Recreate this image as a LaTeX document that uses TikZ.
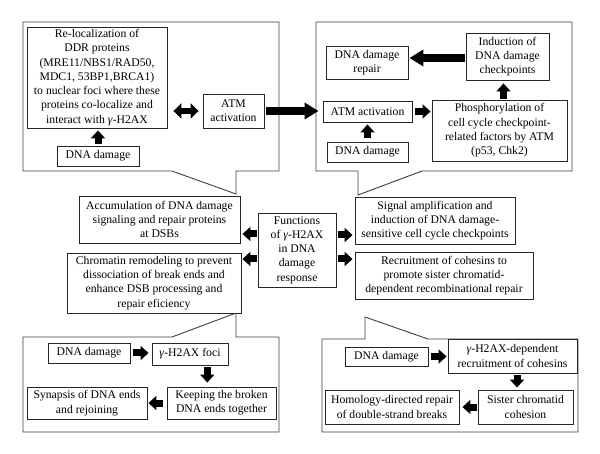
\documentclass[tikz,border=0pt]{standalone}
\usepackage{fontspec}
\setmainfont{Liberation Serif}
\usetikzlibrary{arrows.meta,calc}
\newcommand{\gH}{\textit{γ}-H2AX}
\begin{document}
\begin{tikzpicture}[x=1pt,y=-1pt,
  box/.style={draw=black!85,line width=0.9pt,fill=white,align=center,inner sep=0pt,
    font=\fontsize{11.7}{14.3}\selectfont},
  panel/.style={draw=black!75,line width=0.9pt},
  blk/.style={line width=7pt,-{Triangle[length=8pt,width=14pt]}},
  big/.style={line width=8pt,-{Triangle[length=14pt,width=16pt]}},
  dbl/.style={line width=6.5pt,{Triangle[length=8pt,width=15pt]}-{Triangle[length=8pt,width=15pt]}}]
\useasboundingbox (0,0) rectangle (600,454);
\fill[white] (0,0) rectangle (600,454);
% panels
\draw[panel] (23,22) -- (279,22) -- (279,171) -- (236,171) -- (236,194) -- (172,171) -- (23,171) -- cycle;
\draw[panel] (316,22) -- (572,22) -- (572,171) -- (422,171) -- (358,195) -- (358,171) -- (316,171) -- cycle;
\draw[panel] (23,337) -- (172,337) -- (236,313) -- (236,337) -- (279,337) -- (279,432) -- (23,432) -- cycle;
\draw[panel] (322,339) -- (365,339) -- (365,317) -- (428,339) -- (578,339) -- (578,432) -- (322,432) -- cycle;
% top-left
\node[box,minimum width=140,minimum height=101] (reloc) at (97,77.5) {Re-localization of\\DDR proteins\\(MRE11/NBS1/RAD50,\\MDC1, 53BP1,BRCA1)\\to nuclear foci where these\\proteins co-localize and\\interact with \gH};
\node[box,minimum width=61,minimum height=34] (atm1) at (233.5,111) {ATM\\activation};
\node[box,minimum width=82,minimum height=20] (dd1) at (98,156) {DNA damage};
% top-right
\node[box,minimum width=82,minimum height=33] (repair) at (367,62.5) {DNA damage\\repair};
\node[box,minimum width=83,minimum height=47] (induct) at (507.5,56.5) {Induction of\\DNA damage\\checkpoints};
\node[box,minimum width=89,minimum height=21] (atm2) at (367.5,111.5) {ATM activation};
\node[box,minimum width=135,minimum height=61] (phos) at (499.5,130.5) {Phosphorylation of\\cell cycle checkpoint-\\related factors by ATM\\(p53, Chk2)};
\node[box,minimum width=81,minimum height=20] (dd2) at (367.5,152) {DNA damage};
% middle
\node[box,minimum width=161,minimum height=47] (accum) at (159.5,219.5) {Accumulation of DNA damage\\signaling and repair proteins\\at DSBs};
\node[box,minimum width=174,minimum height=60] (chrom) at (154,283) {Chromatin remodeling to prevent\\dissociation of break ends and\\enhance DSB processing and\\repair eficiency};
\node[box,minimum width=78,minimum height=74] (func) at (297,250) {Functions\\of \gH\\in DNA\\damage\\response};
\node[box,minimum width=160,minimum height=47] (signal) at (435,220.5) {Signal amplification and\\induction of DNA damage-\\sensitive cell cycle checkpoints};
\node[box,minimum width=178,minimum height=47] (recruit) at (444,275.5) {Recruitment of cohesins to\\promote sister chromatid-\\dependent recombinational repair};
% bottom-left
\node[box,minimum width=82,minimum height=20] (dd3) at (89,353) {DNA damage};
\node[box,minimum width=76,minimum height=22] (foci) at (190,354) {\gH\ foci};
\node[box,minimum width=109,minimum height=32] (keep) at (221.5,403) {Keeping the broken\\DNA ends together};
\node[box,minimum width=120,minimum height=32] (synap) at (87,403) {Synapsis of DNA ends\\and rejoining};
% bottom-right
\node[box,minimum width=83,minimum height=19] (dd4) at (386.5,356.5) {DNA damage};
\node[box,minimum width=129,minimum height=34] (gdep) at (512.5,356) {\gH-dependent\\recruitment of cohesins};
\node[box,minimum width=95,minimum height=34] (sister) at (525.5,407) {Sister chromatid\\cohesion};
\node[box,minimum width=134,minimum height=34] (homol) at (392,407) {Homology-directed repair\\of double-strand breaks};
% helper coordinates
\path (reloc.east |- atm1.west) coordinate (r1);
\path ($(phos.north)!0.5!(phos.north -| induct.south)$) coordinate (p1);
\path ([yshift=16pt]func.west) coordinate (fw1);
\path ([yshift=-9pt]func.west) coordinate (fw2);
\path ([yshift=15pt]func.east) coordinate (fe1);
\path ([yshift=-9pt]func.east) coordinate (fe2);
\path ($(foci.south)!0.55!(foci.south -| keep.north)$) coordinate (fc1);
\path ($(gdep.south)!0.35!(gdep.south -| sister.north)$) coordinate (gd1);
% arrows
\draw[blk,shorten <=2pt,shorten >=2pt] (dd1.north) -- (dd1.north |- reloc.south);
\draw[dbl,shorten <=6pt,shorten >=4pt] (r1) -- (atm1.west);
\draw[big,shorten <=2pt,shorten >=4pt] (atm1.east) -- (atm1.east -| atm2.west);
\draw[big,shorten <=1pt,shorten >=1pt] ([yshift=-1.5pt]induct.west) -- ([yshift=-1.5pt]induct.west -| repair.east);
\draw[blk,shorten <=3pt,shorten >=1pt] (atm2.east) -- (atm2.east -| phos.west);
\draw[blk,shorten <=1pt,shorten >=3pt] (p1) -- (p1 |- induct.south);
\draw[blk,shorten <=4pt,shorten >=2pt] (dd2.north) -- (atm2.south);
\draw[blk,shorten <=1pt,shorten >=2pt] (fw1) -- (fw1 -| accum.east);
\draw[blk,shorten <=1pt,shorten >=1pt] (fw2) -- (fw2 -| chrom.east);
\draw[blk,shorten <=2pt,shorten >=2pt] (fe1) -- (fe1 -| signal.west);
\draw[blk,shorten <=2pt,shorten >=2pt] (fe2) -- (fe2 -| recruit.west);
\draw[blk,shorten <=3pt,shorten >=3pt] (dd3.east) -- (dd3.east -| foci.west);
\draw[blk,shorten <=2pt,shorten >=4pt] (fc1) -- (fc1 |- keep.north);
\draw[blk,shorten <=4pt,shorten >=1pt] (keep.west) -- (synap.east);
\draw[blk,shorten <=3pt,shorten >=1pt] (dd4.east) -- (dd4.east -| gdep.west);
\draw[blk,shorten <=2pt,shorten >=2pt] (gd1) -- (gd1 |- sister.north);
\draw[blk,shorten <=1pt,shorten >=3pt] (sister.west) -- (homol.east);
\end{tikzpicture}
\end{document}
